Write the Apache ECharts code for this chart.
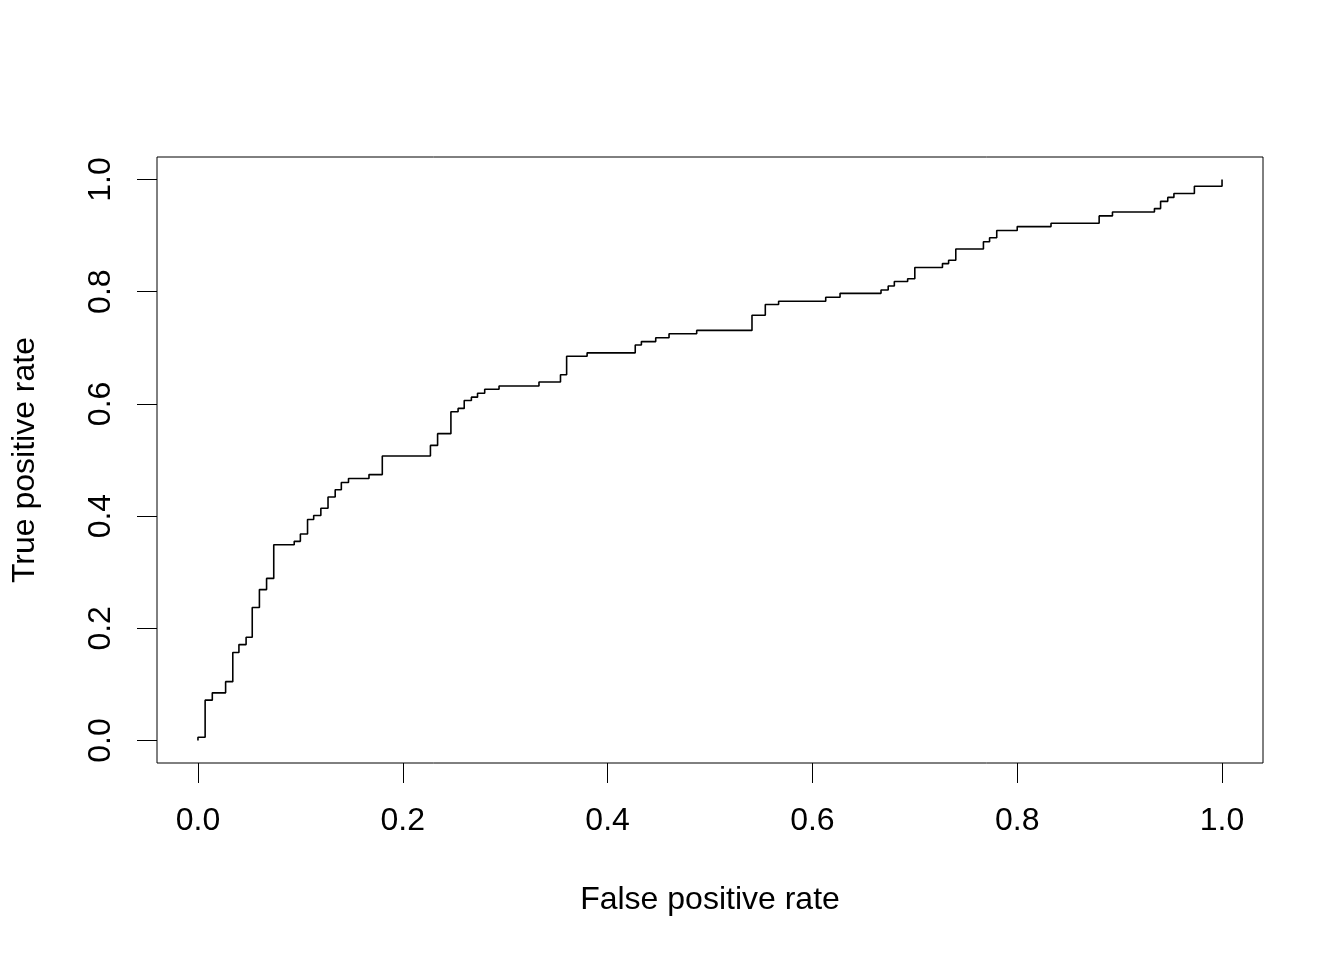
<!DOCTYPE html>
<html>
<head>
<meta charset="utf-8">
<script src="https://cdn.jsdelivr.net/npm/echarts@6/dist/echarts.min.js"></script>
<style>html,body{margin:0;padding:0;background:#fff}#c{width:1344px;height:960px}</style>
</head>
<body>
<div id="c"></div>
<script>
// False positive rate at each rise of the ROC step curve
var fpr = [0, 0, 0.007, 0.014, 0.027, 0.034, 0.040, 0.047, 0.053, 0.060, 0.067, 0.074,
  0.094, 0.100, 0.107, 0.113, 0.120, 0.127, 0.134, 0.140, 0.147, 0.167, 0.180,
  0.227, 0.234, 0.247, 0.254, 0.260, 0.267, 0.273, 0.280, 0.294, 0.333, 0.354, 0.360,
  0.380, 0.427, 0.433, 0.447, 0.460, 0.487, 0.541, 0.554, 0.567, 0.613, 0.627,
  0.667, 0.674, 0.680, 0.693, 0.700, 0.727, 0.733, 0.740, 0.767, 0.773, 0.780,
  0.800, 0.833, 0.880, 0.893, 0.934, 0.940, 0.947, 0.953, 0.973, 1.0];
// True positive rate reached at each rise
var tpr = [0, 0.006, 0.072, 0.085, 0.105, 0.157, 0.171, 0.184, 0.237, 0.269, 0.289, 0.349,
  0.355, 0.368, 0.394, 0.401, 0.414, 0.434, 0.447, 0.460, 0.467, 0.474, 0.507,
  0.526, 0.547, 0.586, 0.592, 0.606, 0.612, 0.619, 0.626, 0.632, 0.639, 0.652, 0.685,
  0.691, 0.705, 0.711, 0.718, 0.725, 0.731, 0.758, 0.777, 0.783, 0.790, 0.797,
  0.803, 0.810, 0.818, 0.823, 0.843, 0.850, 0.856, 0.876, 0.889, 0.896, 0.909,
  0.916, 0.922, 0.935, 0.942, 0.948, 0.961, 0.968, 0.975, 0.988, 1.0];
var ticks = [0, 0.2, 0.4, 0.6, 0.8, 1.0];
var xTitle = 'False positive rate';
var yTitle = 'True positive rate';

var pts = fpr.map(function (v, i) { return [v, tpr[i]]; });
var FONT = 'Liberation Sans';
var chart = echarts.init(document.getElementById('c'), null, {renderer: 'canvas'});
chart.setOption({
  animation: false,
  backgroundColor: '#fff',
  grid: {left: 157, right: 81, top: 157, bottom: 197, show: true,
         borderColor: '#000', borderWidth: 1, backgroundColor: 'transparent'},
  xAxis: {
    type: 'value', min: -0.04, max: 1.04,
    splitLine: {show: false},
    axisLine: {show: false, onZero: false},
    axisTick: {show: true, inside: false, length: 20, customValues: ticks, lineStyle: {color: '#000', width: 1}},
    axisLabel: {show: true, customValues: ticks, margin: 42, color: '#000', fontSize: 32,
      fontFamily: FONT, formatter: function (v) { return v.toFixed(1); }},
    name: xTitle, nameLocation: 'middle', nameGap: 121,
    nameTextStyle: {color: '#000', fontSize: 32, fontFamily: FONT}
  },
  yAxis: {
    type: 'value', min: -0.04, max: 1.04,
    splitLine: {show: false},
    axisLine: {show: false, onZero: false},
    axisTick: {show: true, inside: false, length: 20, customValues: ticks, lineStyle: {color: '#000', width: 1}},
    axisLabel: {show: true, customValues: ticks, margin: 40, rotate: 90, color: '#000', fontSize: 32,
      fontFamily: FONT, formatter: function (v) { return v.toFixed(1); }},
    name: yTitle, nameLocation: 'middle', nameGap: 116, nameRotate: 90,
    nameTextStyle: {color: '#000', fontSize: 32, fontFamily: FONT}
  },
  series: [{
    type: 'line', data: pts, step: 'end', showSymbol: false, symbol: 'none',
    lineStyle: {color: '#000', width: 1.6}, silent: true
  }]
});
</script>
</body>
</html>
